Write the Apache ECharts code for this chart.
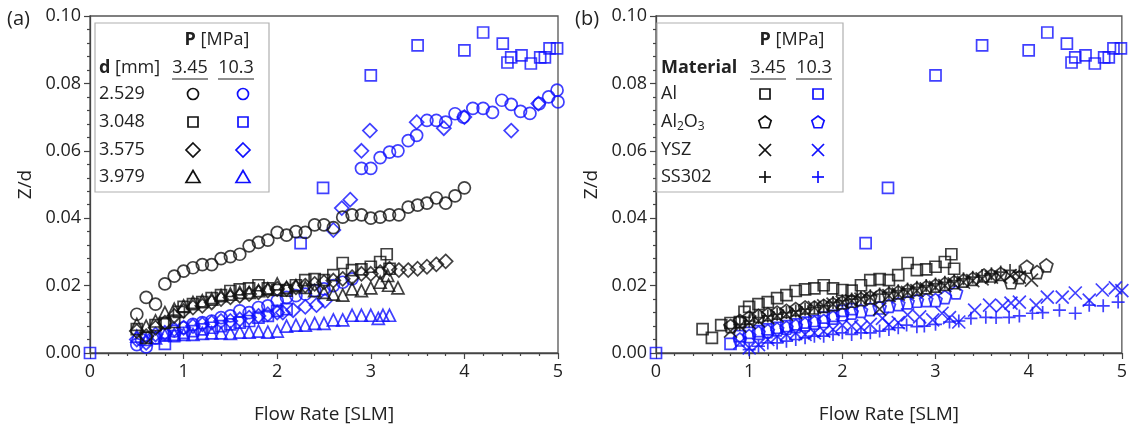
<!DOCTYPE html>
<html>
<head>
<meta charset="utf-8">
<script src="https://cdn.jsdelivr.net/npm/echarts@6/dist/echarts.min.js"></script>
<style>
  html, body { margin: 0; padding: 0; background: #fff; }
  #chart { width: 1130px; height: 429px; }
</style>
</head>
<body>
<div id="chart"></div>
<script>
// ---- data: panel (a), d [mm] x P [MPa] ----
const circle345 = [[0.5,0.0115],[0.6,0.0165],[0.7,0.0145],[0.8,0.0205],[0.9,0.0228],[1.0,0.0243],[1.1,0.0253],[1.2,0.0262],[1.3,0.0262],[1.4,0.028],[1.5,0.0286],[1.6,0.0293],[1.7,0.0318],[1.8,0.0328],[1.9,0.0335],[2.0,0.0358],[2.1,0.035],[2.2,0.036],[2.3,0.0358],[2.4,0.038],[2.5,0.038],[2.6,0.0372],[2.7,0.0403],[2.8,0.041],[2.9,0.041],[3.0,0.04],[3.1,0.0403],[3.2,0.041],[3.3,0.041],[3.4,0.0433],[3.5,0.0439],[3.6,0.0445],[3.7,0.046],[3.8,0.0445],[3.9,0.0466],[4.0,0.049]];
const circle103 = [[0.5,0.0025],[0.55,0.004],[0.6,0.0018],[0.7,0.0045],[0.8,0.0055],[0.9,0.0065],[1.0,0.0075],[1.1,0.0085],[1.2,0.009],[1.3,0.0095],[1.4,0.0105],[1.5,0.011],[1.6,0.0125],[1.7,0.012],[1.8,0.0135],[1.9,0.014],[2.0,0.0155],[2.1,0.0165],[2.2,0.017],[2.3,0.0175],[2.4,0.0185],[2.5,0.019],[2.6,0.02],[2.7,0.021],[2.8,0.022],[2.9,0.0548],[3.0,0.0548],[3.1,0.058],[3.2,0.0596],[3.29,0.06],[3.4,0.063],[3.49,0.0646],[3.6,0.069],[3.7,0.069],[3.8,0.0685],[3.9,0.071],[3.99,0.07],[4.09,0.0726],[4.2,0.0726],[4.3,0.0714],[4.4,0.075],[4.5,0.0738],[4.6,0.0717],[4.7,0.0711],[4.8,0.074],[4.9,0.076],[4.99,0.078],[5.0,0.0745]];
const diamond345 = [[0.5,0.0065],[0.6,0.005],[0.7,0.0075],[0.8,0.009],[0.9,0.011],[1.0,0.0125],[1.1,0.0135],[1.2,0.014],[1.3,0.015],[1.4,0.016],[1.5,0.0165],[1.6,0.017],[1.7,0.0175],[1.8,0.018],[1.9,0.0185],[2.0,0.019],[2.1,0.019],[2.2,0.0195],[2.3,0.02],[2.4,0.0205],[2.5,0.021],[2.6,0.0215],[2.7,0.022],[2.8,0.0225],[2.9,0.0235],[3.0,0.0235],[3.1,0.024],[3.2,0.025],[3.3,0.0246],[3.4,0.0246],[3.5,0.025],[3.6,0.0256],[3.7,0.0263],[3.8,0.0272]];
const diamond103 = [[0.5,0.004],[0.6,0.003],[0.7,0.0055],[0.8,0.006],[0.9,0.007],[1.0,0.0075],[1.1,0.008],[1.2,0.0085],[1.3,0.009],[1.4,0.0095],[1.5,0.0095],[1.6,0.01],[1.7,0.0105],[1.8,0.011],[1.9,0.0115],[2.0,0.012],[2.06,0.012],[2.17,0.0127],[2.3,0.0137],[2.42,0.0142],[2.51,0.0155],[2.6,0.0365],[2.69,0.043],[2.78,0.0455],[2.9,0.06],[2.99,0.066],[3.49,0.0685],[3.78,0.0667],[4.0,0.07],[4.5,0.066],[4.79,0.074]];
const triangle345 = [[0.5,0.0085],[0.6,0.008],[0.7,0.0095],[0.8,0.012],[0.9,0.013],[1.0,0.014],[1.1,0.015],[1.2,0.0155],[1.3,0.016],[1.4,0.017],[1.5,0.0175],[1.6,0.018],[1.7,0.018],[1.8,0.0185],[1.9,0.019],[2.0,0.0205],[2.1,0.0195],[2.2,0.02],[2.3,0.0195],[2.4,0.0185],[2.5,0.018],[2.6,0.0175],[2.7,0.0172],[2.8,0.019],[2.9,0.0185],[3.0,0.0193],[3.1,0.021],[3.18,0.023],[3.19,0.0201],[3.29,0.0193]];
const triangle103 = [[0.5,0.005],[0.6,0.004],[0.7,0.0045],[0.8,0.0053],[0.9,0.0055],[1.0,0.0055],[1.1,0.0055],[1.2,0.0058],[1.3,0.006],[1.4,0.006],[1.5,0.0058],[1.6,0.0062],[1.7,0.0062],[1.8,0.0065],[1.9,0.0062],[2.0,0.0065],[2.1,0.008],[2.2,0.0083],[2.3,0.0083],[2.4,0.0088],[2.5,0.0088],[2.6,0.0098],[2.7,0.0098],[2.8,0.0112],[2.9,0.0112],[3.0,0.0112],[3.08,0.0103],[3.13,0.0112],[3.2,0.0112]];

// ---- data: Al (d = 3.048 mm), shared by both panels ----
const squareAl345 = [[0.5,0.0071],[0.6,0.0045],[0.7,0.0083],[0.8,0.0089],[0.9,0.0092],[0.95,0.0122],[1.0,0.0137],[1.1,0.0145],[1.2,0.0151],[1.3,0.0163],[1.4,0.0172],[1.5,0.0184],[1.6,0.0189],[1.7,0.0192],[1.8,0.0201],[1.9,0.0192],[2.0,0.0187],[2.1,0.0185],[2.2,0.0201],[2.3,0.0216],[2.4,0.0219],[2.5,0.0216],[2.6,0.0231],[2.7,0.0267],[2.8,0.0246],[2.9,0.0248],[3.0,0.0256],[3.1,0.027],[3.17,0.0293],[3.2,0.025]];
const squareAl103 = [[0,0],[0.8,0.0027],[0.9,0.005],[1.0,0.006],[1.1,0.0065],[1.2,0.007],[1.3,0.0075],[1.4,0.008],[1.5,0.0085],[1.6,0.009],[1.7,0.0095],[1.8,0.0105],[1.9,0.011],[2.0,0.0125],[2.1,0.013],[2.25,0.0326],[2.49,0.049],[3.0,0.0824],[3.5,0.0913],[4.0,0.0898],[4.2,0.0951],[4.41,0.0918],[4.46,0.0862],[4.5,0.0877],[4.61,0.0883],[4.71,0.0859],[4.81,0.0877],[4.86,0.0877],[4.91,0.0904],[4.99,0.0904]];

// ---- data: panel (b), material x P [MPa] ----
const pentagon345 = [[0.8,0.008],[0.9,0.0095],[1.0,0.0105],[1.1,0.011],[1.2,0.0115],[1.3,0.012],[1.4,0.0125],[1.5,0.013],[1.6,0.0135],[1.7,0.0135],[1.8,0.014],[1.9,0.0145],[2.0,0.015],[2.1,0.0155],[2.2,0.016],[2.3,0.0165],[2.4,0.017],[2.5,0.0175],[2.6,0.018],[2.7,0.0185],[2.8,0.019],[2.9,0.0195],[3.0,0.02],[3.1,0.0205],[3.2,0.021],[3.3,0.0215],[3.4,0.022],[3.52,0.023],[3.6,0.023],[3.7,0.0235],[3.81,0.021],[3.9,0.0225],[3.98,0.0256],[4.09,0.024],[4.19,0.026]];
const cross345 = [[0.8,0.0065],[0.9,0.008],[1.0,0.009],[1.1,0.0095],[1.2,0.0105],[1.3,0.011],[1.4,0.0115],[1.5,0.012],[1.6,0.0125],[1.7,0.0135],[1.8,0.014],[1.9,0.0145],[2.0,0.015],[2.1,0.0155],[2.2,0.016],[2.3,0.0165],[2.4,0.013],[2.5,0.017],[2.6,0.0175],[2.7,0.018],[2.8,0.0185],[2.9,0.019],[3.0,0.0195],[3.1,0.02],[3.2,0.0205],[3.3,0.021],[3.4,0.0215],[3.5,0.022],[3.6,0.0225],[3.7,0.0225],[3.8,0.023],[3.9,0.0225],[4.03,0.0216]];
const plus345 = [[0.9,0.0085],[1.0,0.0095],[1.1,0.0105],[1.2,0.011],[1.3,0.0115],[1.4,0.012],[1.5,0.0125],[1.6,0.013],[1.7,0.0135],[1.8,0.014],[1.9,0.015],[2.0,0.0155],[2.1,0.016],[2.2,0.0165],[2.3,0.017],[2.4,0.0175],[2.5,0.018],[2.6,0.0185],[2.7,0.019],[2.8,0.0195],[2.9,0.02],[3.0,0.0205],[3.1,0.021],[3.2,0.0215],[3.3,0.022],[3.4,0.0225],[3.5,0.023],[3.6,0.0235],[3.7,0.024],[3.8,0.0245],[3.9,0.024]];
const pentagon103 = [[0.9,0.004],[1.0,0.005],[1.1,0.006],[1.2,0.0065],[1.3,0.007],[1.4,0.0075],[1.5,0.008],[1.6,0.0085],[1.7,0.009],[1.8,0.0095],[1.9,0.0105],[2.0,0.0115],[2.1,0.012],[2.2,0.0125],[2.3,0.013],[2.4,0.0135],[2.5,0.014],[2.6,0.0145],[2.7,0.015],[2.8,0.0155],[2.9,0.0157],[3.0,0.0157],[3.1,0.0166],[3.22,0.018]];
const cross103 = [[0.9,0.003],[1.0,0.0015],[1.1,0.0025],[1.2,0.004],[1.3,0.005],[1.4,0.0055],[1.5,0.006],[1.6,0.0055],[1.7,0.006],[1.8,0.0065],[1.9,0.007],[2.0,0.0083],[2.1,0.008],[2.2,0.0077],[2.3,0.0085],[2.43,0.0103],[2.5,0.0085],[2.6,0.009],[2.7,0.0113],[2.83,0.0107],[2.97,0.0098],[3.07,0.0118],[3.15,0.0105],[3.25,0.0092],[3.42,0.0127],[3.58,0.0142],[3.72,0.014],[3.81,0.0148],[3.9,0.0151],[4.08,0.0142],[4.2,0.0166],[4.36,0.0166],[4.5,0.0178],[4.65,0.0157],[4.79,0.0187],[4.93,0.0193],[5.0,0.0185]];
const plus103 = [[1.0,0.001],[1.1,0.002],[1.2,0.003],[1.3,0.003],[1.4,0.0035],[1.5,0.004],[1.6,0.0045],[1.7,0.005],[1.8,0.005],[1.9,0.0055],[2.0,0.006],[2.1,0.0055],[2.2,0.006],[2.3,0.006],[2.4,0.0065],[2.5,0.007],[2.6,0.0075],[2.69,0.0083],[2.8,0.0078],[2.88,0.008],[3.0,0.0085],[3.15,0.0092],[3.25,0.0095],[3.38,0.0103],[3.54,0.0106],[3.65,0.0105],[3.79,0.0106],[3.9,0.011],[4.04,0.0118],[4.15,0.012],[4.33,0.0127],[4.5,0.0118],[4.65,0.0142],[4.8,0.014],[4.96,0.0151]];

const dLabels = ["2.529", "3.048", "3.575", "3.979"];
const pLabels = ["3.45", "10.3"];

const BLACK = "#111";
const BLUE = "#1010ff";
const FONT = "Open Sans";
const FS = 18;
const LW = 1.7;

const PENTAGON = "path://M0,-1L0.951,-0.309L0.588,0.809L-0.588,0.809L-0.951,-0.309Z";
const CROSS = "path://M0,0L1,1M1,0L0,1";
const PLUS = "path://M0.5,0L0.5,1M0,0.5L1,0.5";

function sc(data, panel, symbol, size, color) {
  return {
    type: "scatter",
    xAxisIndex: panel,
    yAxisIndex: panel,
    data: data,
    symbol: symbol,
    symbolSize: size,
    itemStyle: { color: "rgba(0,0,0,0)", borderColor: color, borderWidth: LW },
    emphasis: { disabled: true },
  };
}

function axisX(i) {
  return {
    type: "value", gridIndex: i, min: 0, max: 5, interval: 1,
    name: "Flow Rate [SLM]", nameLocation: "middle", nameGap: 52,
    nameTextStyle: { fontFamily: FONT, fontSize: 19, color: "#222" },
    axisLine: { show: true, onZero: false, lineStyle: { color: "#444", width: 1.3 } },
    axisTick: { show: true, length: 6, lineStyle: { color: "#444", width: 1.2 } },
    minorTick: { show: true, splitNumber: 5, length: 3, lineStyle: { color: "#444", width: 1.2 } },
    splitLine: { show: false },
    axisLabel: { fontFamily: FONT, fontSize: FS, color: "#222", margin: 10 },
  };
}

function axisY(i) {
  return {
    type: "value", gridIndex: i, min: 0, max: 0.1, interval: 0.02,
    name: "Z/d", nameLocation: "middle", nameGap: 55,
    nameTextStyle: { fontFamily: FONT, fontSize: 19, color: "#222" },
    axisLine: { show: true, onZero: false, lineStyle: { color: "#444", width: 1.3 } },
    axisTick: { show: true, length: 6, lineStyle: { color: "#444", width: 1.2 } },
    minorTick: { show: true, splitNumber: 5, length: 3, lineStyle: { color: "#444", width: 1.2 } },
    splitLine: { show: false },
    axisLabel: { fontFamily: FONT, fontSize: FS, color: "#222", margin: 9, formatter: (v) => v.toFixed(2) },
  };
}

// ---- legend tables built with graphic elements ----
function txt(x, y, text, opts) {
  return {
    type: "text", x: x, y: y, z: 100,
    style: Object.assign({ text: text, font: FS + "px " + FONT, fill: "#222", textAlign: "left", textVerticalAlign: "middle" }, opts || {}),
  };
}
function line(x1, y1, x2, y2, color, w) {
  return { type: "line", z: 100, shape: { x1, y1, x2, y2 }, style: { stroke: color, lineWidth: w || LW } };
}
function mark(kind, cx, cy, color) {
  const st = { fill: "none", stroke: color, lineWidth: LW };
  if (kind === "circle") return [{ type: "circle", z: 100, shape: { cx, cy, r: 5.5 }, style: st }];
  if (kind === "square") return [{ type: "rect", z: 100, shape: { x: cx - 5, y: cy - 5, width: 10, height: 10 }, style: st }];
  if (kind === "diamond") return [{ type: "polygon", z: 100, shape: { points: [[cx, cy - 7], [cx + 7, cy], [cx, cy + 7], [cx - 7, cy]] }, style: st }];
  if (kind === "triangle") return [{ type: "polygon", z: 100, shape: { points: [[cx, cy - 6.5], [cx + 7, cy + 5.5], [cx - 7, cy + 5.5]] }, style: st }];
  if (kind === "pentagon") {
    const pts = [];
    for (let k = 0; k < 5; k++) {
      const a = -Math.PI / 2 + k * 2 * Math.PI / 5;
      pts.push([cx + 6.5 * Math.cos(a), cy + 6.5 * Math.sin(a) + 0.5]);
    }
    return [{ type: "polygon", z: 100, shape: { points: pts }, style: st }];
  }
  if (kind === "cross") return [line(cx - 6, cy - 6, cx + 6, cy + 6, color), line(cx - 6, cy + 6, cx + 6, cy - 6, color)];
  if (kind === "plus") return [line(cx - 6, cy, cx + 6, cy, color), line(cx, cy - 6, cx, cy + 6, color)];
  return [];
}

const boldRich = { b: { fontWeight: "bold", fontFamily: FONT, fontSize: FS } };

function legendBlock(box, headLabel, rows, kinds, col1, col2, m1, m2, pCenter) {
  const els = [];
  els.push({ type: "rect", z: 99, shape: { x: box[0], y: box[1], width: box[2], height: box[3] }, style: { fill: "#fff", stroke: "#b0b0b0", lineWidth: 1.2 } });
  els.push(txt(pCenter, 40, "{b|P} [MPa]", { textAlign: "center", rich: boldRich }));
  els.push(txt(box[0] + 4, 68, headLabel, { rich: boldRich }));
  els.push(txt(col1, 68, pLabels[0], { textAlign: "center" }));
  els.push(txt(col2, 68, pLabels[1], { textAlign: "center" }));
  els.push(line(col1 - 18, 79, col1 + 18, 79, "#222", 1.2));
  els.push(line(col2 - 18, 79, col2 + 18, 79, "#222", 1.2));
  const ys = [94, 122, 150, 177];
  rows.forEach((r, i) => {
    els.push(txt(box[0] + 4, ys[i], r.text, r.rich ? { rich: r.rich } : {}));
    mark(kinds[i], m1, ys[i], BLACK).forEach((e) => els.push(e));
    mark(kinds[i], m2, ys[i], BLUE).forEach((e) => els.push(e));
  });
  return els;
}

const subRich = {
  a: { fontFamily: FONT, fontSize: FS, lineHeight: 22 },
  s: { fontFamily: FONT, fontSize: 12, lineHeight: 22, verticalAlign: "bottom", padding: [9, 0, 0, 0] },
};

const legendA = legendBlock([95, 23, 174, 169], "{b|d} [mm]",
  dLabels.map((t) => ({ text: t })),
  ["circle", "square", "diamond", "triangle"], 190, 236, 193, 243, 217);
const legendB = legendBlock([657, 23, 186, 169], "{b|Material}",
  [{ text: "Al" }, { text: "{a|Al}{s|2}{a|O}{s|3}", rich: subRich }, { text: "YSZ" }, { text: "SS302" }],
  ["square", "pentagon", "cross", "plus"], 768, 814, 765, 818, 792);

const chart = echarts.init(document.getElementById("chart"), null, { renderer: "canvas" });
chart.setOption({
  animation: false,
  backgroundColor: "#fff",
  grid: [
    { left: 90, top: 16, width: 468, height: 337, show: true, borderColor: "#555", borderWidth: 1.3, backgroundColor: "transparent" },
    { left: 656, top: 16, width: 467, height: 337, show: true, borderColor: "#555", borderWidth: 1.3, backgroundColor: "transparent" },
  ],
  xAxis: [axisX(0), axisX(1)],
  yAxis: [axisY(0), axisY(1)],
  graphic: [
    txt(7, 19, "(a)", { font: "20px " + FONT }),
    txt(575, 19, "(b)", { font: "20px " + FONT }),
    ...legendA,
    ...legendB,
  ],
  series: [
    // panel (a)
    sc(triangle103, 0, "triangle", 12, BLUE),
    sc(diamond103, 0, "diamond", 14, BLUE),
    sc(squareAl103, 0, "rect", 11, BLUE),
    sc(circle103, 0, "circle", 12, BLUE),
    sc(triangle345, 0, "triangle", 12, BLACK),
    sc(diamond345, 0, "diamond", 14, BLACK),
    sc(squareAl345, 0, "rect", 11, BLACK),
    sc(circle345, 0, "circle", 12, BLACK),
    // panel (b)
    sc(plus103, 1, PLUS, 13, BLUE),
    sc(cross103, 1, CROSS, 13, BLUE),
    sc(pentagon103, 1, PENTAGON, 13, BLUE),
    sc(squareAl103, 1, "rect", 11, BLUE),
    sc(plus345, 1, PLUS, 13, BLACK),
    sc(cross345, 1, CROSS, 13, BLACK),
    sc(pentagon345, 1, PENTAGON, 13, BLACK),
    sc(squareAl345, 1, "rect", 11, BLACK),
  ],
});
</script>
</body>
</html>
